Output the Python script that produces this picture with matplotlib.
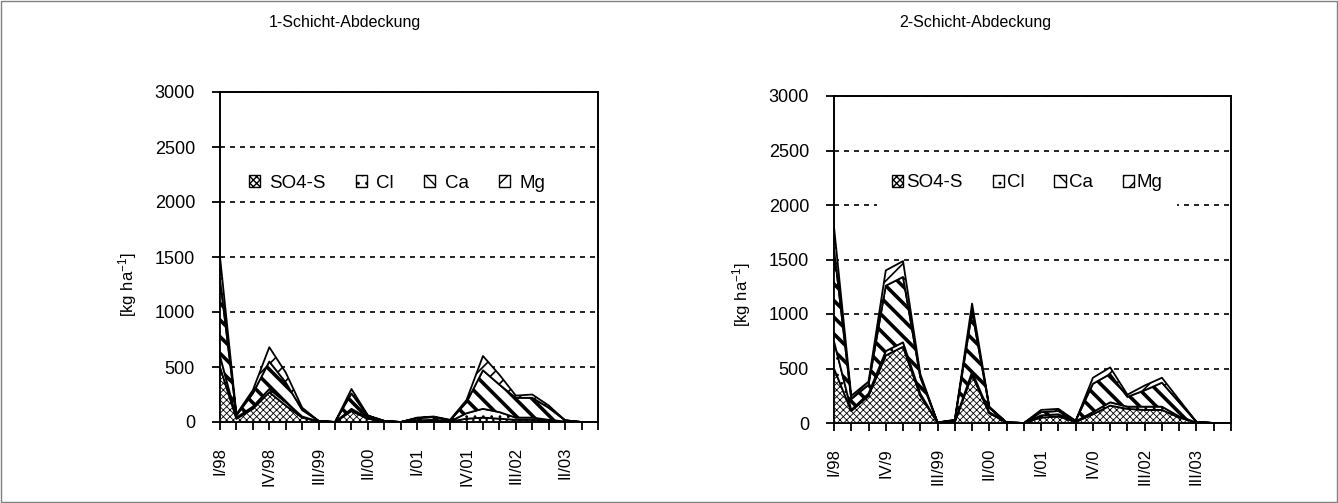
import numpy as np
import matplotlib
matplotlib.use('Agg')
import matplotlib.pyplot as plt
from matplotlib.patches import Patch, Rectangle

plt.rcParams['font.family'] = ['Liberation Sans', 'DejaVu Sans']
plt.rcParams['mathtext.default'] = 'regular'

# ---------------- data ----------------
quarters = list(range(24))          # I/98 ... IV/03
series_names = ['SO4-S', 'Cl', 'Ca', 'Mg']

left_so4 = [500, 30, 120, 270, 150, 40, 5, 0, 100, 30, 5, 0, 10, 15, 5, 30, 40, 30, 20, 20, 10, 5, 0, 0]
left_cl  = [100, 10, 20, 30, 30, 10, 0, 0, 20, 5, 0, 0, 5, 5, 0, 50, 80, 60, 20, 20, 10, 0, 0, 0]
left_ca  = [700, 20, 120, 250, 180, 60, 5, 0, 140, 20, 5, 0, 20, 25, 10, 100, 350, 250, 180, 180, 110, 10, 0, 0]
left_mg  = [200, 10, 30, 130, 90, 20, 0, 0, 40, 5, 0, 0, 5, 5, 5, 20, 130, 90, 20, 30, 20, 0, 0, 0]

right_so4 = [500, 110, 250, 620, 700, 250, 5, 10, 440, 90, 5, 0, 50, 60, 10, 80, 160, 130, 120, 120, 50, 5, 0, 0]
right_cl  = [250, 10, 20, 40, 40, 20, 0, 5, 30, 10, 0, 0, 20, 20, 5, 20, 30, 20, 30, 30, 10, 0, 0, 0]
right_ca  = [850, 100, 80, 600, 600, 150, 0, 10, 550, 40, 0, 0, 30, 30, 5, 260, 260, 90, 150, 220, 130, 5, 0, 0]
right_mg  = [200, 30, 30, 140, 145, 30, 0, 5, 76, 10, 0, 0, 20, 20, 0, 55, 60, 20, 44, 45, 22, 0, 0, 0]

label_pos = [0, 3, 6, 9, 12, 15, 18, 21]
left_labels = ['I/98', 'IV/98', 'III/99', 'II/00', 'I/01', 'IV/01', 'III/02', 'II/03']
right_labels = ['I/98', 'IV/9', 'III/99', 'II/00', 'I/01', 'IV/0', 'III/02', 'III/03']

y_ticks = [0, 500, 1000, 1500, 2000, 2500, 3000]
titles = ['1-Schicht-Abdeckung', '2-Schicht-Abdeckung']
ylabel = '[kg ha$^{-1}$]'

# ---------------- styles ----------------
hatches = ['xxxxx', '..', '\\\\', '//']
hatch_lw = [0.6, 0.8, 2.6, 1.2]

fig = plt.figure(figsize=(13.38, 5.03), dpi=100)
W, H = 1338, 503

def make_axes(x0, x1, ytop, ybot):
    return fig.add_axes([x0 / W, 1 - ybot / H, (x1 - x0) / W, (ybot - ytop) / H])

ax_l = make_axes(220, 598, 92, 422)
ax_r = make_axes(834, 1231, 96, 423)

def draw(ax, series, xlabels, legend_anchor, legend_frame, textpad, colspace):
    x = np.array(quarters, dtype=float)
    base = np.zeros(len(x))
    for vals, hatch, hlw in zip(series, hatches, hatch_lw):
        top = base + np.array(vals, dtype=float)
        with plt.rc_context({'hatch.linewidth': hlw}):
            coll = ax.fill_between(x, base, top, facecolor='white', edgecolor='black',
                                   hatch=hatch, linewidth=1.3, zorder=3)
            if hasattr(coll, 'set_hatch_linewidth'):
                coll.set_hatch_linewidth(hlw)
        base = top
    ax.set_xlim(0, 23)
    ax.set_ylim(0, 3000)
    ax.set_yticks(y_ticks)
    ax.set_yticklabels([str(v) for v in y_ticks], fontsize=13)
    ax.set_xticks(quarters)
    labs = [''] * len(quarters)
    for p, l in zip(label_pos, xlabels):
        labs[p] = l
    ax.set_xticklabels(labs, rotation=90, fontsize=12)
    ax.tick_params(axis='y', direction='out', length=6, width=1.3, pad=12)
    ax.tick_params(axis='x', direction='out', length=6, width=1.3, pad=12)
    for s in ax.spines.values():
        s.set_linewidth(1.4)
        s.set_color('black')
    ax.yaxis.grid(True, color='black', linestyle=(0, (3, 3)), linewidth=1.2, zorder=1)
    ax.set_axisbelow(True)
    handles = []
    for name, hatch, hlw in zip(series_names, hatches, hatch_lw):
        with plt.rc_context({'hatch.linewidth': min(hlw, 1.5)}):
            p = Patch(facecolor='white', edgecolor='black', hatch=hatch, linewidth=1.0, label=name)
            if hasattr(p, 'set_hatch_linewidth'):
                p.set_hatch_linewidth(min(hlw, 1.5))
        handles.append(p)
    leg = ax.legend(handles=handles, loc='center', bbox_to_anchor=legend_anchor, ncol=4,
                    frameon=legend_frame, fontsize=13.5, handlelength=0.6, handleheight=0.6,
                    handletextpad=textpad, columnspacing=colspace, borderpad=0.8,
                    borderaxespad=0, fancybox=False)
    if legend_frame:
        leg.get_frame().set_facecolor('white')
        leg.get_frame().set_edgecolor('none')
        leg.get_frame().set_alpha(1)
    leg.set_zorder(5)

draw(ax_l, [left_so4, left_cl, left_ca, left_mg], left_labels, (0.468, 0.724), False, 0.5, 1.6)
draw(ax_r, [right_so4, right_cl, right_ca, right_mg], right_labels, (0.487, 0.734), True, 0.15, 1.6)

fig.text(345 / W, 1 - 22 / H, titles[0], ha='center', va='center', fontsize=11.5)
fig.text(975 / W, 1 - 22 / H, titles[1], ha='center', va='center', fontsize=11.5)
fig.text(128 / W, 1 - 285 / H, ylabel, rotation=90, ha='center', va='center', fontsize=12)
fig.text(742 / W, 1 - 295 / H, ylabel, rotation=90, ha='center', va='center', fontsize=12)

fig.add_artist(Rectangle((0.0008, 0.002), 0.9984, 0.996, transform=fig.transFigure,
                         fill=False, edgecolor='#808080', linewidth=1.0))

fig.savefig('out.png', dpi=100)
